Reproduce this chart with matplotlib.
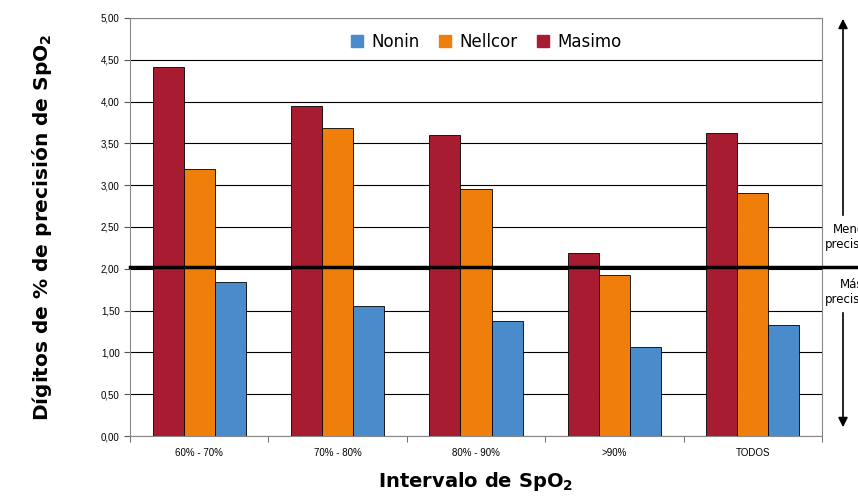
import matplotlib.pyplot as plt
from matplotlib.patches import FancyArrowPatch, Patch
import numpy as np

categories = ['60% - 70%', '70% - 80%', '80% - 90%', '>90%', 'TODOS']
masimo = [4.41, 3.95, 3.60, 2.19, 3.63]
nellcor = [3.19, 3.68, 2.96, 1.93, 2.91]
nonin = [1.84, 1.56, 1.37, 1.06, 1.33]
y_ticks = [0, 0.5, 1, 1.5, 2, 2.5, 3, 3.5, 4, 4.5, 5]
threshold = 2.02

c_masimo = '#A81C32'
c_nellcor = '#F07E0A'
c_nonin = '#4A8CCB'

fig = plt.figure(figsize=(8.58, 5), dpi=100)
ax = fig.add_axes([130/858, 64/500, 692/858, 418/500])

x = np.arange(len(categories))
w = 0.224
ax.bar(x - w, masimo, w, color=c_masimo, edgecolor='black', linewidth=0.6, zorder=3)
ax.bar(x, nellcor, w, color=c_nellcor, edgecolor='black', linewidth=0.6, zorder=3)
ax.bar(x + w, nonin, w, color=c_nonin, edgecolor='black', linewidth=0.6, zorder=3)

ax.set_xlim(-0.5, len(categories) - 0.5)
ax.set_ylim(0, 5)
ax.set_yticks(y_ticks)
ax.set_yticklabels([f'{v:.2f}'.replace('.', ',') for v in y_ticks],
                   fontsize=7, family='Liberation Sans')
ax.yaxis.grid(True, color='black', linewidth=0.8, zorder=0)
ax.set_xticks(x)
ax.set_xticklabels(categories, fontsize=7, family='Liberation Sans')
ax.tick_params(axis='x', length=0, pad=9)
ax.set_xticks(np.arange(len(categories) + 1) - 0.5, minor=True)
ax.tick_params(axis='x', which='minor', length=4, color='#555555')
ax.tick_params(axis='y', length=4, color='#555555')
for s in ax.spines.values():
    s.set_color('#888888')
    s.set_linewidth(0.8)

# linea de referencia
ax.plot([0, 1.1], [threshold, threshold], transform=ax.get_yaxis_transform(),
        color='black', linewidth=2.5, clip_on=False, zorder=4)

handles = [Patch(color=c_nonin), Patch(color=c_nellcor), Patch(color=c_masimo)]
ax.legend(handles, ['Nonin', 'Nellcor', 'Masimo'], loc='upper center',
          bbox_to_anchor=(0.515, 1.0), ncol=3, frameon=False, fontsize=12,
          handlelength=0.7, handleheight=0.7, columnspacing=1.2, handletextpad=0.5)

ax.set_xlabel('Intervalo de SpO$_\\mathbf{2}$', fontsize=14, fontweight='bold', labelpad=8)
ax.set_ylabel('Dígitos de % de precisión de SpO$_\\mathbf{2}$', fontsize=14.5,
              fontweight='bold', labelpad=34)

# flechas y textos a la derecha
fig.add_artist(FancyArrowPatch(
    (843/858, 1 - 218/500), (843/858, 1 - 16/500), transform=fig.transFigure,
    arrowstyle='-|>', mutation_scale=14, color='black', linewidth=1.2))
fig.add_artist(FancyArrowPatch(
    (843/858, 1 - 310/500), (843/858, 1 - 430/500), transform=fig.transFigure,
    arrowstyle='-|>', mutation_scale=14, color='black', linewidth=1.2))
fig.text(852/858, 1 - 237/500, 'Menos\nprecisión', ha='center', va='center', fontsize=8.5)
fig.text(852/858, 1 - 292/500, 'Más\nprecisión', ha='center', va='center', fontsize=8.5)

fig.savefig('out.png', dpi=100)
